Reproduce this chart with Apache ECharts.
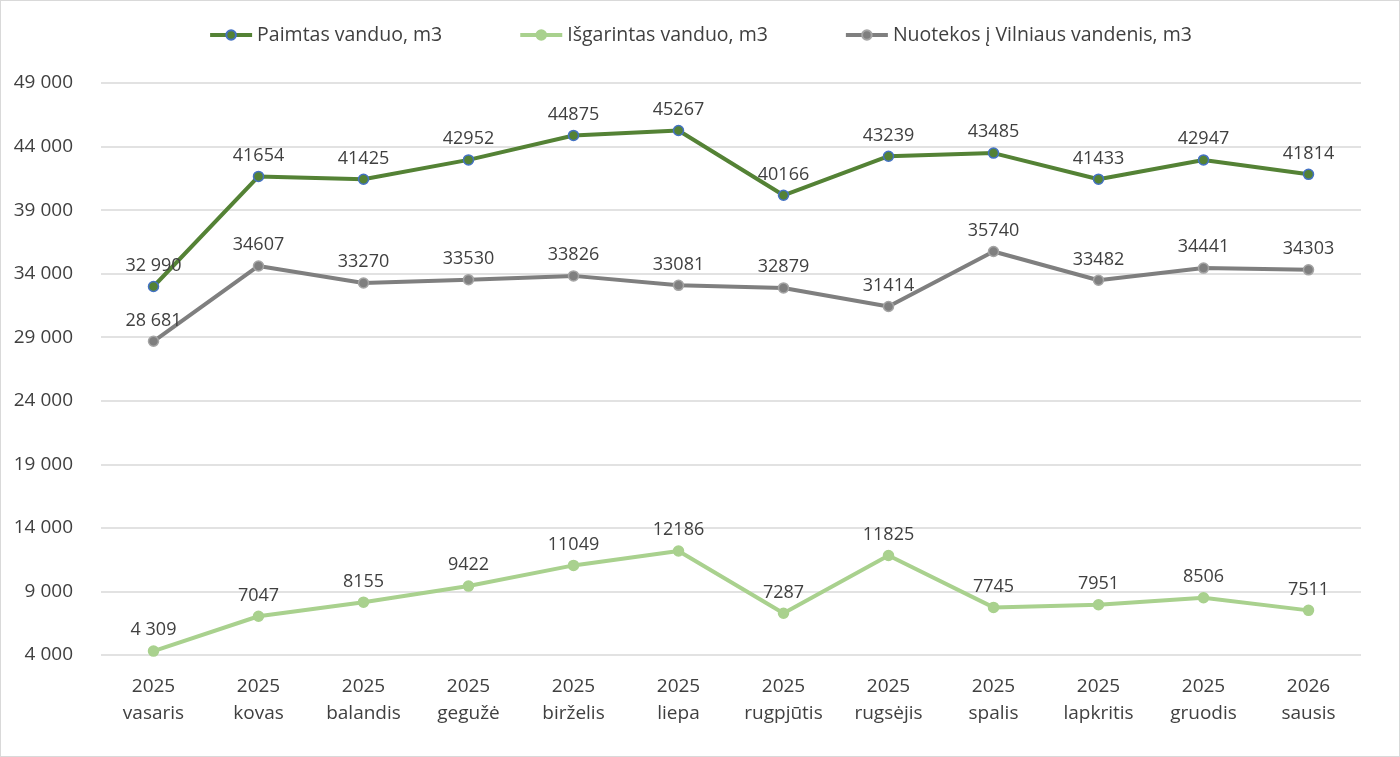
<!DOCTYPE html>
<html><head><meta charset="utf-8">
<script src="https://cdn.jsdelivr.net/npm/echarts@6/dist/echarts.min.js"></script>
<style>html,body{margin:0;padding:0;background:#fff}#c{width:1398px;height:755px;border:1px solid #d9d9d9}</style>
</head><body><div id="c"></div>
<script>
const categories = ['2025\nvasaris','2025\nkovas','2025\nbalandis','2025\ngegužė','2025\nbirželis','2025\nliepa','2025\nrugpjūtis','2025\nrugsėjis','2025\nspalis','2025\nlapkritis','2025\ngruodis','2026\nsausis'];
const paimtas = [32990,41654,41425,42952,44875,45267,40166,43239,43485,41433,42947,41814];
const isgarintas = [4309,7047,8155,9422,11049,12186,7287,11825,7745,7951,8506,7511];
const nuotekos = [28681,34607,33270,33530,33826,33081,32879,31414,35740,33482,34441,34303];
const seriesNames = ['Paimtas vanduo, m3','Išgarintas vanduo, m3','Nuotekos į Vilniaus vandenis, m3'];

const font = "'Open Sans', 'Noto Sans', sans-serif";
const sp = v => String(v).replace(/\B(?=(\d{3})+(?!\d))/g, ' ');
const lbl = p => p.dataIndex === 0 ? sp(p.value) : String(p.value);

function mk(name, data, color, markerBorder) {
  return {
    name, type: 'line', data,
    symbol: 'circle', symbolSize: 10,
    lineStyle: { color, width: 4 },
    itemStyle: { color, borderColor: markerBorder, borderWidth: 1.5 },
    label: { show: true, position: 'top', distance: 6, formatter: lbl, color: '#404040', fontSize: 18, fontFamily: font },
    emphasis: { disabled: true }
  };
}

const chart = echarts.init(document.getElementById('c'));
chart.setOption({
  animation: false,
  legend: {
    top: 19, left: 'center', itemGap: 76, itemWidth: 42, itemHeight: 12,
    lineStyle: { width: 4 },
    textStyle: { color: '#404040', fontSize: 19.5, fontFamily: font }
  },
  grid: { left: 100, right: 38, top: 82, bottom: 101 },
  xAxis: {
    type: 'category', data: categories, boundaryGap: true,
    axisLine: { show: false }, axisTick: { show: false },
    axisLabel: { color: '#404040', fontSize: 19, fontFamily: font, lineHeight: 27, margin: 18 }
  },
  yAxis: {
    type: 'value', min: 4000, max: 49000, interval: 5000,
    axisLine: { show: false }, axisTick: { show: false },
    splitLine: { lineStyle: { color: '#d9d9d9', width: 1.5 } },
    axisLabel: { color: '#404040', fontSize: 19, fontFamily: font, margin: 28, formatter: v => sp(v) }
  },
  series: [
    mk(seriesNames[0], paimtas, '#548235', '#4472c4'),
    mk(seriesNames[1], isgarintas, '#a9d18e', '#a9d18e'),
    mk(seriesNames[2], nuotekos, '#7f7f7f', '#a5a5a5')
  ]
});
</script></body></html>
